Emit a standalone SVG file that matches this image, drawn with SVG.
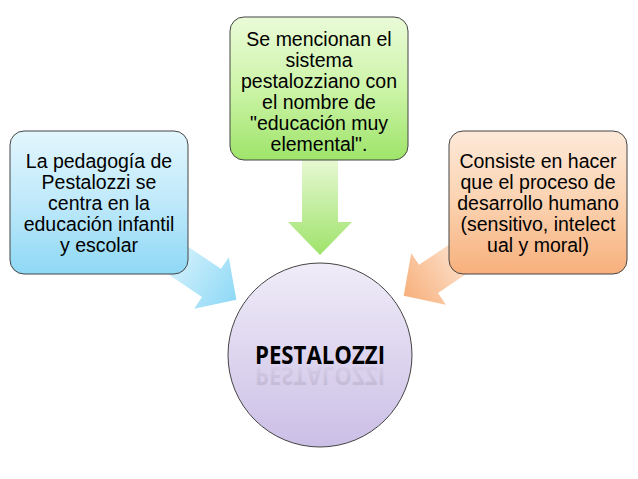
<svg xmlns="http://www.w3.org/2000/svg" width="638" height="479" viewBox="0 0 638 479">
<defs>
<linearGradient id="gb" x1="0" y1="0" x2="0" y2="1"><stop offset="0" stop-color="#e2f6fd"/><stop offset="0.5" stop-color="#bfe9fa"/><stop offset="1" stop-color="#8ed8f5"/></linearGradient>
<linearGradient id="gg" x1="0" y1="0" x2="0" y2="1"><stop offset="0" stop-color="#eafbd8"/><stop offset="0.5" stop-color="#cdf4a8"/><stop offset="1" stop-color="#9ee46a"/></linearGradient>
<linearGradient id="go" x1="0" y1="0" x2="0" y2="1"><stop offset="0" stop-color="#fde9d9"/><stop offset="0.5" stop-color="#fbd2b0"/><stop offset="1" stop-color="#f7b07c"/></linearGradient>
<linearGradient id="gp" x1="0" y1="0" x2="0" y2="1"><stop offset="0" stop-color="#f0ecf8"/><stop offset="1" stop-color="#cbbfe6"/></linearGradient>
<linearGradient id="ab" x1="0" y1="0" x2="1" y2="0"><stop offset="0" stop-color="#d6f2fc"/><stop offset="1" stop-color="#8fd9f6"/></linearGradient>
<linearGradient id="ag" x1="0" y1="0" x2="0" y2="1"><stop offset="0" stop-color="#e6f8d2"/><stop offset="1" stop-color="#9fe36b"/></linearGradient>
<linearGradient id="ao" x1="0" y1="0" x2="1" y2="0"><stop offset="0" stop-color="#fde6d4"/><stop offset="1" stop-color="#f7b07c"/></linearGradient>
<linearGradient id="rf" x1="0" y1="0" x2="0" y2="1"><stop offset="0" stop-color="#000" stop-opacity="0.35"/><stop offset="1" stop-color="#000" stop-opacity="0"/></linearGradient>
</defs>
<style>
.box{stroke:#444;stroke-width:1}
.t{font-family:"Liberation Sans",Arial,sans-serif;font-size:19.5px;fill:#000;text-anchor:middle}
</style>
<rect width="638" height="479" fill="#fff"/>
<g id="connectors">
<polygon transform="translate(170,255) rotate(34)" points="0,-17 50,-17 50,-31 80,0 50,31 50,17 0,17" fill="url(#ab)"/>
<polygon points="302,160 338,160 338,222 352,222 320,255 288,222 302,222" fill="url(#ag)"/>
<polygon transform="translate(470,251) rotate(146)" points="0,-17 50,-17 50,-31 80,0 50,31 50,17 0,17" fill="url(#ao)"/>
</g>
<g id="n-left"><rect class="box" x="10" y="131" width="178" height="143" rx="14" fill="url(#gb)"/>
<text class="t" x="99" y="168">La pedagogía de</text><text class="t" x="99" y="189">Pestalozzi se</text><text class="t" x="99" y="210">centra en la</text><text class="t" x="99" y="231">educación infantil</text><text class="t" x="99" y="252">y escolar</text></g>
<g id="n-top"><rect class="box" x="230" y="17" width="178" height="143" rx="14" fill="url(#gg)"/>
<text class="t" x="319" y="46">Se mencionan el</text><text class="t" x="319" y="67">sistema</text><text class="t" x="319" y="88">pestalozziano con</text><text class="t" x="319" y="109">el nombre de</text><text class="t" x="319" y="130">"educación muy</text><text class="t" x="319" y="151">elemental".</text></g>
<g id="n-right"><rect class="box" x="449" y="131" width="178" height="143" rx="14" fill="url(#go)"/>
<text class="t" x="538" y="168">Consiste en hacer</text><text class="t" x="538" y="189">que el proceso de</text><text class="t" x="538" y="210">desarrollo humano</text><text class="t" x="538" y="231">(sensitivo, intelect</text><text class="t" x="538" y="252">ual y moral)</text></g>
<g id="n-center"><circle cx="320" cy="355" r="92" fill="url(#gp)" stroke="#444" stroke-width="1"/>
<text x="320" y="364" font-family="'Open Sans','Liberation Sans',sans-serif" font-weight="bold" font-size="25" text-anchor="middle" textLength="130" lengthAdjust="spacingAndGlyphs" fill="#000">PESTALOZZI</text>
<text x="320" y="377" transform="translate(0,744) scale(1,-1)" font-family="'Open Sans','Liberation Sans',sans-serif" font-weight="bold" font-size="25" text-anchor="middle" textLength="130" lengthAdjust="spacingAndGlyphs" fill="url(#rf)" opacity="0.35">PESTALOZZI</text></g>
</svg>
